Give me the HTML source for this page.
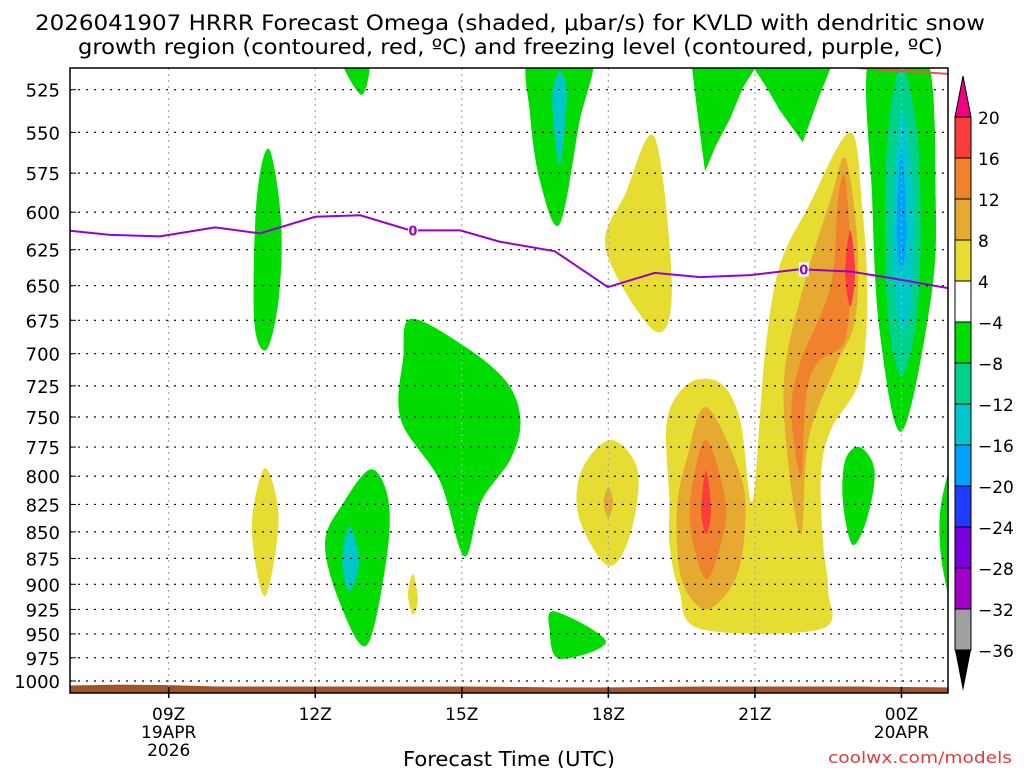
<!DOCTYPE html>
<html><head><meta charset="utf-8">
<style>
body{margin:0;background:#fff;font-family:"Liberation Sans","DejaVu Sans",sans-serif;}
svg text{font-family:"DejaVu Sans","Liberation Sans",sans-serif;}
</style></head>
<body>
<svg id="chart" width="1024" height="768" viewBox="0 0 1024 768" xmlns="http://www.w3.org/2000/svg">
<rect width="1024" height="768" fill="#fff"/>
<text x="35" y="30" font-size="21" textLength="950" lengthAdjust="spacingAndGlyphs">2026041907 HRRR Forecast Omega (shaded, μbar/s) for KVLD with dendritic snow</text>
<text x="78" y="54" font-size="21" textLength="865" lengthAdjust="spacingAndGlyphs">growth region (contoured, red, ºC) and freezing level (contoured, purple, ºC)</text>
<defs><clipPath id="pc"><rect x="70" y="68" width="878" height="625"/></clipPath></defs>
<g id="fills" clip-path="url(#pc)"></g>
<g id="grid"></g>
<g id="lines" clip-path="url(#pc)"></g>
<rect x="70" y="68" width="878" height="625" fill="none" stroke="#000" stroke-width="1.5"/>
<g id="axes"></g>
<g id="cbar"></g>
<text x="403" y="766" font-size="20" textLength="212" lengthAdjust="spacingAndGlyphs">Forecast Time (UTC)</text>
<text x="828" y="763" font-size="16" textLength="184" lengthAdjust="spacingAndGlyphs" fill="#e03c3c">coolwx.com/models</text>
</svg>
<script>
const pTicks=[525,550,575,600,625,650,675,700,725,750,775,800,825,850,875,900,925,950,975,1000];
const xTickHours=[9,12,15,18,21,24];
const xTickLabels=["09Z","12Z","15Z","18Z","21Z","00Z"];
const xTickSub=[["19APR","2026"],[],[],[],[],["20APR"]];
const cbLevels=[20,16,12,8,4,-4,-8,-12,-16,-20,-24,-28,-32,-36];
const cbColors=["#fa3c3c","#f0822d","#e6aa32","#e6dc32","#ffffff","#00dc00","#00d28c","#00c8c8","#00a0ff","#1e3cff","#7800dc","#a000c8","#a0a0a0"];
// freezing level
const fzHours=[6.9,7.8,8.82,9.95,10.87,12,12.92,13.95,14.97,15.78,16.9,17.99,18.95,19.88,20.9,21.92,22.95,23.97,25.0];
const fzPres=[612,615,616,610,614,603,602,612,612,619.6,626,651,641,644,642.6,638.5,640,645.7,652];
const fzLabelHours=[14,22];
const sfcHours=[6.9,8,9,10,12,15,17,18,20,23,25.1];
const sfcPres=[1005,1004,1004.5,1006,1006,1006,1007,1007,1006,1006,1007];
// omega shapes: [color, hours, pressures, straight?]
const shapes=[
["#00dc00",[11.05,11.3,11.25,11,10.75,10.8],[560,605,660,697,675,592]],
["#00dc00",[12.5,13.1,12.95],[505,505,528]],
["#00dc00",[13.95,15,15.9,16.2,16,15.4,15.05,14.55,13.75,13.8],[674,693,721,752,785,822,873,804,752,703]],
["#00dc00",[13.15,13.5,13.45,13.05,12.5,12.2,12.6],[794,822,878,962,918,860,822]],
["#00c8c8",[12.7,12.9,12.7,12.55],[845,877,907,877]],
["#00dc00",[16.4,17.65,17.4,17,16.6,16.4],[505,505,545,608,580,540]],
["#00c8c8",[17,17.15,17,16.85],[515,528,570,531]],
["#00dc00",[16.9,17.95,17,16.8],[927,958,976,947]],
["#00dc00",[19.71,21.0,20.75,20.49,20.2,19.98,19.85],[512,513,524,542,558,574,545],1],
["#00dc00",[20.98,22.56,22.3,21.98,21.51,21.2],[513,512,530,556,537,522],1],
["#00dc00",[23.35,24.5,24.7,24.6,24,23.55,23.4],[505,505,591,660,762,682,591]],
["#00d28c",[24,24.35,24.35,24,23.7,23.7],[512,560,660,717,660,560]],
["#00c8c8",[24.03,24.25,24.2,24,23.8,23.85],[537,591,660,682,632,578]],
["#00a0ff",[24,24.1,24,23.9],[560,612,639,612]],
["#00dc00",[23.15,23.45,23.3,23,22.8,22.85],[775,795,837,862,822,786]],
["#00dc00",[25.1,24.8,24.83,25.1],[790,828,880,920]],
["#e6dc32",[10.97,11.25,10.97,10.7],[793,838,912,846]],
["#e6dc32",[14,14.1,14,13.9],[890,915,930,910]],
["#e6dc32",[18.95,19.3,18.95,17.95,18.35],[553,652,683,625,588]],
["#e6dc32",[18.05,18.6,18.45,18,17.4,17.45],[769,795,852,882,837,795]],
["#e6aa32",[18,18.1,18,17.9],[810,823,837,823]],
["#e6dc32",[19.25,19.2,19.65,20.3,20.7,20.95,21.2,21.5,22.1,22.95,23.2,23.3,23.15,22.55,22.35,22.4,22.5,22.35,19.9,19.45,19.25],[822,753,723,723,753,822,702,637,596,550,598,660,720,761,800,862,906,945,945,906,862]],
["#e6aa32",[20,20.7,20.8,20.6,20,19.5,19.4,19.6],[742,798,844,895,925,895,831,786]],
["#f0822d",[20,20.4,20.3,20,19.7,19.7],[769,822,862,895,852,813]],
["#fa3c3c",[20,20.1,20,19.9],[795,830,852,830]],
["#e6aa32",[22.85,23.1,23.05,22.65,22.1,21.95,21.7,21.6,22,22.55],[566,620,675,710,768,852,795,718,650,592]],
["#f0822d",[22.85,22.95,22.85,22.3,22.05,21.95,21.75,21.9,22.55,22.7],[578,632,689,706,732,800,750,710,650,592]],
["#fa3c3c",[22.95,23.05,22.95,22.85],[612,640,665,640]]
];
const xOf=h=>71+(h-7)*48.85;
const yOf=p=>681-917.7*Math.log(1000/p);
const NS="http://www.w3.org/2000/svg";
function mk(tag,attrs,parent){const e=document.createElementNS(NS,tag);for(const k in attrs)e.setAttribute(k,attrs[k]);parent.appendChild(e);return e;}
function closedPath(pts){const n=pts.length;let d=`M${pts[0][0]},${pts[0][1]}`;
for(let i=0;i<n;i++){const p0=pts[(i-1+n)%n],p1=pts[i],p2=pts[(i+1)%n],p3=pts[(i+2)%n];
d+=` C${p1[0]+(p2[0]-p0[0])/6},${p1[1]+(p2[1]-p0[1])/6} ${p2[0]-(p3[0]-p1[0])/6},${p2[1]-(p3[1]-p1[1])/6} ${p2[0]},${p2[1]}`;}
return d+"Z";}
function straightPath(pts){return "M"+pts.map(p=>p[0]+","+p[1]).join(" L")+"Z";}
const fills=document.getElementById('fills');
shapes.forEach((s,i)=>{const pts=s[1].map((h,j)=>[xOf(h),yOf(s[2][j])]);
const e=mk('path',{d:s[3]?straightPath(pts):closedPath(pts),fill:s[0]},fills);

});
// surface
{let d=`M${xOf(sfcHours[0])},700`;sfcHours.forEach((h,i)=>d+=` L${xOf(h)},${yOf(sfcPres[i])}`);d+=` L${xOf(sfcHours[sfcHours.length-1])},700Z`;
const e=mk('path',{d:d,fill:"#a0522d"},fills);

}
// grid
const grid=document.getElementById('grid'),axes=document.getElementById('axes');
pTicks.forEach(p=>{const y=yOf(p);
mk('line',{x1:70,x2:948,y1:y,y2:y,stroke:"#000","stroke-width":1.2,"stroke-dasharray":"2,6"},grid);
const t=mk('text',{x:60,y:y+7,"font-size":18,"text-anchor":"end"},axes);t.textContent=p;


mk('line',{x1:70,x2:76,y1:y,y2:y,stroke:"#000"},axes);});
xTickHours.forEach((h,i)=>{const x=xOf(h);
mk('line',{x1:x,x2:x,y1:68,y2:693,stroke:"#aaa","stroke-width":1.2,"stroke-dasharray":"2,4"},grid);
mk('line',{x1:x,x2:x,y1:687,y2:698,stroke:"#000","stroke-width":1.5},axes);
const t=mk('text',{x:x,y:720,"font-size":17,"text-anchor":"middle"},axes);t.textContent=xTickLabels[i];


xTickSub[i].forEach((s,k)=>{const u=mk('text',{x:x,y:738+k*18,"font-size":17,"text-anchor":"middle"},axes);u.textContent=s;

});});
// freezing line
const lines=document.getElementById('lines');
{let d="";fzHours.forEach((h,i)=>d+=(i?" L":"M")+xOf(h)+","+yOf(fzPres[i]));
const e=mk('path',{d:d,fill:"none",stroke:"#9900cc","stroke-width":2},lines);


const rl=mk('path',{d:`M${xOf(23.1)},68 L${xOf(25)},74`,stroke:"#f05050","stroke-width":2,fill:"none"},lines);


fzLabelHours.forEach(h=>{let k=0;while(k<fzHours.length-2&&fzHours[k+1]<h)k++;
const f=(h-fzHours[k])/(fzHours[k+1]-fzHours[k]);const p=fzPres[k]+f*(fzPres[k+1]-fzPres[k]);
const x=xOf(h),y=yOf(p);mk('rect',{x:x-5,y:y-7,width:10,height:14,fill:"#fff"},lines);
const t=mk('text',{x:x,y:y+5,"font-size":13,"font-weight":"bold","text-anchor":"middle",fill:"#9900cc"},lines);t.textContent="0";

});}
// colorbar
const cb=document.getElementById('cbar');const cbTop=117,cbStep=41,cbx=955,cbw=16;
mk('path',{d:`M${cbx},${cbTop} L${cbx+cbw/2},76 L${cbx+cbw},${cbTop}Z`,fill:"#f00082",stroke:"#000"},cb);
cbColors.forEach((c,i)=>{const r=mk('rect',{x:cbx,y:cbTop+i*cbStep,width:cbw,height:cbStep,fill:c,stroke:"#000","stroke-width":1},cb);

});
const cbBot=cbTop+cbColors.length*cbStep;
mk('path',{d:`M${cbx},${cbBot} L${cbx+cbw/2},691 L${cbx+cbw},${cbBot}Z`,fill:"#000"},cb);
cbLevels.forEach((v,i)=>{const t=mk('text',{x:978,y:cbTop+i*cbStep+7,"font-size":17},cb);t.textContent=v<0?"−"+Math.abs(v):v;

});
</script>
</body></html>
